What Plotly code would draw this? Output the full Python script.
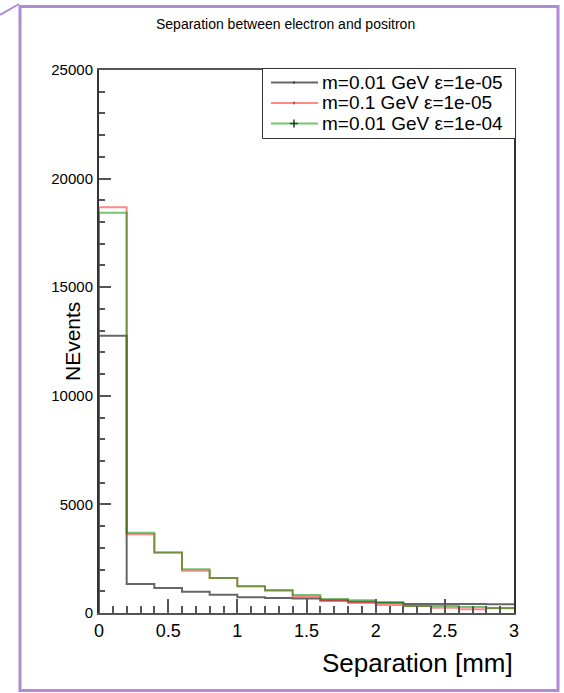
import plotly.graph_objects as go

# Histogram bins (left edges) and bin width [mm]
bin_left = [0.0, 0.2, 0.4, 0.6, 0.8, 1.0, 1.2, 1.4, 1.6, 1.8, 2.0, 2.2, 2.4, 2.6, 2.8]
bin_width = 0.2

# Event counts per bin
m001_e1e05 = [12770, 1340, 1150, 980, 845, 720, 690, 670, 585, 520, 470, 415, 415, 415, 400]
m01_e1e05 = [18680, 3620, 2780, 1950, 1610, 1230, 1030, 750, 550, 460, 370, 320, 245, 170, 215]
m001_e1e04 = [18430, 3700, 2780, 2010, 1610, 1230, 1060, 830, 650, 585, 490, 320, 320, 275, 230]

names = ["m=0.01 GeV ε=1e-05", "m=0.1 GeV ε=1e-05", "m=0.01 GeV ε=1e-04"]
colors = ["rgba(0,0,0,0.6)", "rgba(255,40,40,0.55)", "rgba(0,150,0,0.55)"]
series = [m001_e1e05, m01_e1e05, m001_e1e04]
marker_kind = ["tick", "tick", "cross"]

y_ticks = [0, 5000, 10000, 15000, 20000, 25000]
y_ticktext = ["0", "5000", "10000", "15000", "20000", "25000"]
x_ticks = [0, 0.5, 1, 1.5, 2, 2.5, 3]
x_ticktext = ["0", "0.5", "1", "1.5", "2", "2.5", "3"]

FONT = "Liberation Sans, Arial, sans-serif"

def step(vals):
    xs = [bin_left[0]] + bin_left + [bin_left[-1] + bin_width]
    ys = [0] + list(vals) + [vals[-1]]
    return xs, ys

fig = go.Figure()
for vals, name, col in zip(series, names, colors):
    xs, ys = step(vals)
    fig.add_trace(go.Scatter(x=xs, y=ys, mode="lines", name=name,
                             line=dict(color=col, width=2, shape="hv"),
                             showlegend=False, hoverinfo="skip"))

L, R, T, B = 99, 50, 70, 80
W, H = 564, 693
pw, ph = W - L - R, H - T - B

def px(x):
    return (x - L) / pw

def py(y):
    return (H - B - y) / ph

PURPLE = "#b08ad2"
shapes = [
    dict(type="rect", xref="paper", yref="paper", x0=px(20), x1=px(558),
         y0=py(690.5), y1=py(6.5), line=dict(color=PURPLE, width=3), layer="above"),
    dict(type="line", xref="paper", yref="paper", x0=px(0), y0=py(15),
         x1=px(19), y1=py(4), line=dict(color=PURPLE, width=2)),
    # legend box
    dict(type="rect", xref="paper", yref="paper", x0=px(262.5), x1=px(515.5),
         y0=py(138.5), y1=py(68.5), line=dict(color="#333", width=1),
         fillcolor="white", layer="above"),
]
annotations = [
    dict(text="Separation between electron and positron", x=px(285), y=py(24),
         xref="paper", yref="paper", xanchor="center", yanchor="middle",
         showarrow=False, font=dict(size=14, family=FONT)),
    dict(text="NEvents", x=px(72), y=py(342), xref="paper", yref="paper",
         xanchor="center", yanchor="middle", textangle=-90, showarrow=False,
         font=dict(size=21, family=FONT)),
    dict(text="Separation [mm]", x=px(515), y=py(663), xref="paper", yref="paper",
         xanchor="right", yanchor="middle", showarrow=False,
         font=dict(size=26, family=FONT)),
]
row_y = [82.5, 103, 123.5]
for name, col, kind, ry in zip(names, colors, marker_kind, row_y):
    shapes.append(dict(type="line", xref="paper", yref="paper", x0=px(271), x1=px(318),
                       y0=py(ry), y1=py(ry), line=dict(color=col, width=2), layer="above"))
    if kind == "tick":
        shapes.append(dict(type="line", xref="paper", yref="paper", x0=px(294), x1=px(294),
                           y0=py(ry - 1.5), y1=py(ry + 1.5),
                           line=dict(color="rgba(0,0,0,0.7)", width=1), layer="above"))
    else:
        shapes.append(dict(type="line", xref="paper", yref="paper", x0=px(294), x1=px(294),
                           y0=py(ry - 4), y1=py(ry + 4),
                           line=dict(color="rgba(0,0,0,0.8)", width=1.5), layer="above"))
        shapes.append(dict(type="line", xref="paper", yref="paper", x0=px(290), x1=px(298),
                           y0=py(ry), y1=py(ry),
                           line=dict(color="rgba(0,60,0,0.8)", width=1.5), layer="above"))
    annotations.append(dict(text=name, x=px(320), y=py(ry), xref="paper", yref="paper",
                            xanchor="left", yanchor="middle", showarrow=False,
                            font=dict(size=19, family=FONT)))

fig.update_layout(
    width=W, height=H,
    margin=dict(l=L, r=R, t=T, b=B),
    paper_bgcolor="white", plot_bgcolor="white",
    font=dict(family=FONT, color="black", size=14),
    showlegend=False,
    xaxis=dict(range=[0, 3], tickvals=x_ticks, ticktext=x_ticktext, ticks="inside", ticklen=14,
               tickcolor="#555", tickwidth=1.5, showgrid=False, zeroline=False,
               showline=True, linecolor="#555", linewidth=2, mirror=True,
               tickfont=dict(size=18, family=FONT), ticklabelstandoff=0,
               minor=dict(dtick=0.1, tick0=0, ticks="inside", ticklen=7, tickcolor="#555",
                          tickwidth=1.5, showgrid=False)),
    yaxis=dict(range=[0, 25000], tickvals=y_ticks, ticktext=y_ticktext, ticks="inside", ticklen=12,
               tickcolor="#555", tickwidth=1.5, showgrid=False, zeroline=False,
               showline=True, linecolor="#333", linewidth=2, mirror=True,
               tickfont=dict(size=15, family=FONT), ticklabelstandoff=1,
               minor=dict(dtick=1000, tick0=0, ticks="inside", ticklen=6, tickcolor="#555",
                          tickwidth=1.5, showgrid=False)),
    annotations=annotations,
    shapes=shapes,
)

fig.write_html("out.html")
